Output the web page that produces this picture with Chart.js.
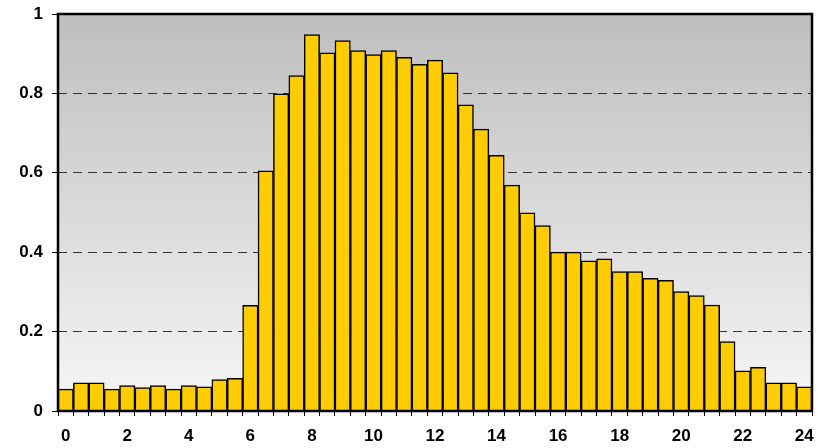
<!DOCTYPE html>
<html>
<head>
<meta charset="utf-8">
<script src="https://cdn.jsdelivr.net/npm/chart.js@4/dist/chart.umd.min.js"></script>
<style>
  html, body { margin: 0; padding: 0; background: #fff; }
  canvas { display: block; }
</style>
</head>
<body>
<canvas id="barChart" width="825" height="448"></canvas>
<script>
// half-hour slots 0..48, labelled every 2 hours
const slots = ['0','0.5','1','1.5','2','2.5','3','3.5','4','4.5','5','5.5','6','6.5','7','7.5',
  '8','8.5','9','9.5','10','10.5','11','11.5','12','12.5','13','13.5','14','14.5','15','15.5',
  '16','16.5','17','17.5','18','18.5','19','19.5','20','20.5','21','21.5','22','22.5','23','23.5','24'];
const shownLabels = ['0','2','4','6','8','10','12','14','16','18','20','22','24'];
const values = [0.055,0.071,0.071,0.055,0.064,0.059,0.064,0.055,0.064,0.061,0.079,0.082,
  0.266,0.605,0.799,0.845,0.948,0.902,0.933,0.908,0.898,0.908,0.891,0.873,
  0.884,0.852,0.771,0.710,0.644,0.569,0.499,0.467,0.400,0.400,0.378,0.383,
  0.351,0.351,0.334,0.329,0.301,0.291,0.267,0.175,0.101,0.110,0.071,0.071,0.061];
const yTicks = [0, 0.2, 0.4, 0.6, 0.8, 1];

const plotBg = {
  id: 'plotBg',
  beforeDraw(chart) {
    const { ctx, chartArea: a } = chart;
    const g = ctx.createLinearGradient(0, a.top, 0, a.bottom);
    g.addColorStop(0, '#bebebe');
    g.addColorStop(1, '#f6f6f6');
    ctx.save();
    ctx.fillStyle = g;
    ctx.fillRect(a.left, a.top, a.right - a.left, a.bottom - a.top);
    ctx.restore();
  },
  afterDraw(chart) {
    const { ctx, chartArea: a } = chart;
    ctx.save();
    ctx.strokeStyle = '#000';
    ctx.lineWidth = 2.5;
    ctx.strokeRect(a.left, a.top, a.right - a.left, a.bottom - a.top);
    ctx.restore();
  }
};

const boldFont = { family: 'Arial, "Liberation Sans", sans-serif', size: 17, weight: 'bold', lineHeight: 1 };

new Chart(document.getElementById('barChart'), {
  type: 'bar',
  data: {
    labels: slots,
    datasets: [{
      data: values,
      backgroundColor: '#ffcc00',
      borderColor: '#000',
      borderWidth: 1.5,
      categoryPercentage: 1,
      barPercentage: 1
    }]
  },
  options: {
    responsive: false,
    animation: false,
    devicePixelRatio: 1,
    layout: { padding: { top: 14, right: 13, left: 0, bottom: 0 } },
    plugins: { legend: { display: false }, tooltip: { enabled: false } },
    scales: {
      x: {
        offset: true,
        grid: { offset: true, drawOnChartArea: false, tickLength: 5, tickColor: '#000', tickWidth: 1 },
        border: { display: false },
        ticks: {
          autoSkip: false,
          maxRotation: 0,
          padding: 12,
          color: '#000',
          font: boldFont,
          callback: function (v) {
            const l = slots[v];
            return shownLabels.includes(l) ? l : '';
          }
        },
        afterFit: s => { s.height = 37; s.paddingLeft = 0; s.paddingRight = 0; }
      },
      y: {
        min: 0,
        max: 1,
        afterBuildTicks: s => { s.ticks = yTicks.map(v => ({ value: v })); },
        grid: {
          color: c => (c.tick && (c.tick.value === 0 || c.tick.value === 1)) ? 'rgba(0,0,0,0)' : '#333',
          lineWidth: 1,
          tickLength: 6,
          tickColor: '#000',
          tickBorderDash: []
        },
        border: { display: false, dash: [9, 6] },
        ticks: {
          padding: 9,
          color: '#000',
          font: boldFont,
          callback: v => String(v)
        },
        afterFit: s => { s.width = 58; s.paddingTop = 0; s.paddingBottom = 0; }
      }
    }
  },
  plugins: [plotBg]
});
</script>
</body>
</html>
